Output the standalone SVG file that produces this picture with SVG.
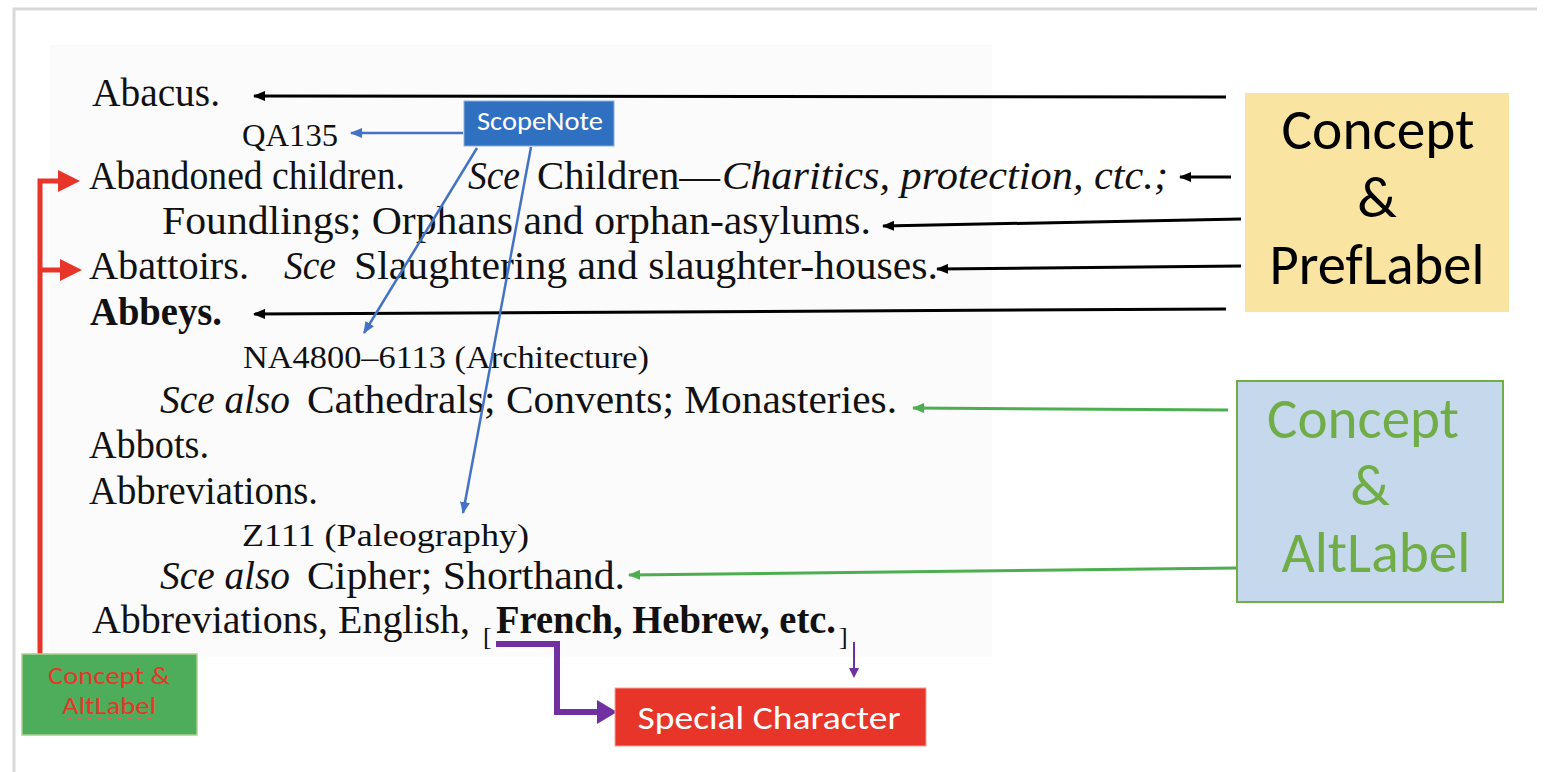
<svg xmlns="http://www.w3.org/2000/svg" width="1547" height="772" viewBox="0 0 1547 772">
<style>
  .scan { font-family: "Liberation Serif", "Times New Roman", serif; fill: #111; font-size: 39px; }
  .small { font-size: 32px; }
  .it { font-style: italic; }
  .bd { font-weight: bold; }
  .lbl { font-family: Carlito, Lato, "Open Sans", sans-serif; }
  .blk { stroke: #000; stroke-width: 3; fill: none; }
  .blu { stroke: #4472c4; stroke-width: 2.5; fill: none; }
  .grn { stroke: #4dae50; stroke-width: 3; fill: none; }
  .red { stroke: #e8352a; stroke-width: 5; fill: none; }
  .pur { stroke: #7030a0; stroke-width: 6; fill: none; }
  .purThin { stroke: #7030a0; stroke-width: 2; fill: none; }
</style>
<defs>
  <marker id="aBlack" markerUnits="userSpaceOnUse" markerWidth="12" markerHeight="10" refX="11" refY="5" orient="auto"><path d="M0,0 L12,5 L0,10 z" fill="#000"/></marker>
  <marker id="aBlue" markerUnits="userSpaceOnUse" markerWidth="12" markerHeight="10" refX="11" refY="5" orient="auto"><path d="M0,0 L12,5 L0,10 z" fill="#4472c4"/></marker>
  <marker id="aGreen" markerUnits="userSpaceOnUse" markerWidth="12" markerHeight="10" refX="11" refY="5" orient="auto"><path d="M0,0 L12,5 L0,10 z" fill="#4dae50"/></marker>
  <marker id="aRed" markerUnits="userSpaceOnUse" markerWidth="22" markerHeight="22" refX="0" refY="11" orient="auto"><path d="M0,0 L22,11 L0,22 z" fill="#e8352a"/></marker>
  <marker id="aPur" markerUnits="userSpaceOnUse" markerWidth="20" markerHeight="24" refX="0" refY="12" orient="auto"><path d="M0,0 L20,12 L0,24 z" fill="#7030a0"/></marker>
  <marker id="aPurS" markerUnits="userSpaceOnUse" markerWidth="10" markerHeight="10" refX="0" refY="5" orient="auto"><path d="M0,0 L10,5 L0,10 z" fill="#7030a0"/></marker>
</defs>

<rect x="0" y="0" width="1547" height="772" fill="#ffffff"/>
<!-- frame -->
<path d="M14,772 V9 H1537" stroke="#d9d9d9" stroke-width="3" fill="none"/>
<!-- scanned page -->
<rect x="50" y="45" width="942" height="612" fill="#fbfbfb"/>

<g id="scan-text" class="scan">
  <text x="92" y="106" textLength="128" lengthAdjust="spacingAndGlyphs">Abacus.</text>
  <text class="small" x="242" y="146" textLength="96" lengthAdjust="spacingAndGlyphs">QA135</text>
  <text y="189"><tspan x="89" textLength="316" lengthAdjust="spacingAndGlyphs">Abandoned children.</tspan><tspan class="it" x="468" textLength="52" lengthAdjust="spacingAndGlyphs">Sce</tspan><tspan x="537" textLength="183" lengthAdjust="spacingAndGlyphs">Children—</tspan><tspan class="it" x="722" textLength="446" lengthAdjust="spacingAndGlyphs">Charitics, protection, ctc.;</tspan></text>
  <text x="162" y="234" textLength="709" lengthAdjust="spacingAndGlyphs">Foundlings; Orphans and orphan-asylums.</text>
  <text y="279"><tspan x="89" textLength="160" lengthAdjust="spacingAndGlyphs">Abattoirs.</tspan><tspan class="it" x="284" textLength="52" lengthAdjust="spacingAndGlyphs">Sce</tspan><tspan x="354" textLength="584" lengthAdjust="spacingAndGlyphs">Slaughtering and slaughter-houses.</tspan></text>
  <text class="bd" x="90" y="325" textLength="132" lengthAdjust="spacingAndGlyphs">Abbeys.</text>
  <text class="small" x="243" y="368" textLength="406" lengthAdjust="spacingAndGlyphs">NA4800–6113 (Architecture)</text>
  <text y="413"><tspan class="it" x="160" textLength="130" lengthAdjust="spacingAndGlyphs">Sce also</tspan><tspan x="307" textLength="590" lengthAdjust="spacingAndGlyphs">Cathedrals; Convents; Monasteries.</tspan></text>
  <text x="89" y="458" textLength="120" lengthAdjust="spacingAndGlyphs">Abbots.</text>
  <text x="89" y="504" textLength="229" lengthAdjust="spacingAndGlyphs">Abbreviations.</text>
  <text class="small" x="242" y="546" textLength="287" lengthAdjust="spacingAndGlyphs">Z111 (Paleography)</text>
  <text y="589"><tspan class="it" x="160" textLength="130" lengthAdjust="spacingAndGlyphs">Sce also</tspan><tspan x="307" textLength="318" lengthAdjust="spacingAndGlyphs">Cipher; Shorthand.</tspan></text>
  <text y="633"><tspan x="92" textLength="378" lengthAdjust="spacingAndGlyphs">Abbreviations, English,</tspan><tspan x="483" y="645" font-size="26">[</tspan><tspan class="bd" x="496" y="633" textLength="340" lengthAdjust="spacingAndGlyphs">French, Hebrew, etc.</tspan><tspan x="839" y="645" font-size="26">]</tspan></text>
</g>

<g id="connectors">
  <path class="blk" d="M1226,97 L254,96" marker-end="url(#aBlack)"/>
  <path class="blk" d="M1231,177 L1180,177" marker-end="url(#aBlack)"/>
  <path class="blk" d="M1241,219 L883,226" marker-end="url(#aBlack)"/>
  <path class="blk" d="M1241,266 L937,269" marker-end="url(#aBlack)"/>
  <path class="blk" d="M1226,309 L254,314" marker-end="url(#aBlack)"/>
  <path class="grn" d="M1228,410 L913,408" marker-end="url(#aGreen)"/>
  <path class="grn" d="M1237,568 L629,575" marker-end="url(#aGreen)"/>
  <path class="blu" d="M463,133 L351,133" marker-end="url(#aBlue)"/>
  <path class="blu" d="M477,148 L364,333" marker-end="url(#aBlue)"/>
  <path class="blu" d="M531,147 L463,513" marker-end="url(#aBlue)"/>
  <path class="red" d="M40,654 V181 H58" marker-end="url(#aRed)"/>
  <path class="red" d="M40,270 H60" marker-end="url(#aRed)"/>
  <path class="pur" d="M496,644 H557 V712 H597" marker-end="url(#aPur)"/>
  <path class="purThin" d="M854,642 V668" marker-end="url(#aPurS)"/>
</g>

<g id="node-prefLabel">
  <rect x="1245" y="93" width="264" height="219" fill="#f9e4a2"/>
  <text class="lbl" x="1378" y="149" font-size="58" text-anchor="middle" fill="#000" textLength="193" lengthAdjust="spacingAndGlyphs">Concept</text>
  <text class="lbl" x="1377" y="217" font-size="58" text-anchor="middle" fill="#000">&amp;</text>
  <text class="lbl" x="1377" y="284" font-size="58" text-anchor="middle" fill="#000" textLength="215" lengthAdjust="spacingAndGlyphs">PrefLabel</text>
</g>

<g id="node-altLabel">
  <rect x="1237" y="381" width="266" height="221" fill="#c5d8ec" stroke="#70ad47" stroke-width="2"/>
  <text class="lbl" x="1363" y="438" font-size="58" text-anchor="middle" fill="#70ad47" textLength="192" lengthAdjust="spacingAndGlyphs">Concept</text>
  <text class="lbl" x="1370" y="505" font-size="58" text-anchor="middle" fill="#70ad47">&amp;</text>
  <text class="lbl" x="1376" y="572" font-size="58" text-anchor="middle" fill="#70ad47" textLength="189" lengthAdjust="spacingAndGlyphs">AltLabel</text>
</g>

<g id="node-scopeNote">
  <rect x="464" y="101" width="150" height="45" fill="#3070c0" stroke="#8fb0dd" stroke-width="1"/>
  <text class="lbl" x="540" y="130" font-size="26" text-anchor="middle" fill="#fff" textLength="126" lengthAdjust="spacingAndGlyphs">ScopeNote</text>
</g>

<g id="node-conceptAltLabel-small">
  <rect x="22" y="654" width="175" height="81" fill="#4ead5b" stroke="#a9d18e" stroke-width="1.5"/>
  <text class="lbl" x="109" y="684" font-size="24" text-anchor="middle" fill="#e8352a" textLength="122" lengthAdjust="spacingAndGlyphs">Concept &amp;</text>
  <text class="lbl" x="109" y="714" font-size="24" text-anchor="middle" fill="#e8352a" textLength="94" lengthAdjust="spacingAndGlyphs">AltLabel</text>
  <path d="M62,720 l2.5,-2.5 l2.5,2.5 l2.5,-2.5 l2.5,2.5 l2.5,-2.5 l2.5,2.5 l2.5,-2.5 l2.5,2.5 l2.5,-2.5 l2.5,2.5 l2.5,-2.5 l2.5,2.5 l2.5,-2.5 l2.5,2.5 l2.5,-2.5 l2.5,2.5 l2.5,-2.5 l2.5,2.5 l2.5,-2.5 l2.5,2.5 l2.5,-2.5 l2.5,2.5 l2.5,-2.5 l2.5,2.5 l2.5,-2.5 l2.5,2.5 l2.5,-2.5 l2.5,2.5 l2.5,-2.5 l2.5,2.5 l2.5,-2.5 l2.5,2.5 l2.5,-2.5 l2.5,2.5 l2.5,-2.5 l2.5,2.5" stroke="#e06060" stroke-width="1" fill="none"/>
</g>

<g id="node-specialCharacter">
  <rect x="615" y="688" width="311" height="58" fill="#e8352a" stroke="#f4a09a" stroke-width="1"/>
  <text class="lbl" x="769" y="729" font-size="32" text-anchor="middle" fill="#fff" textLength="263" lengthAdjust="spacingAndGlyphs">Special Character</text>
</g>
</svg>
